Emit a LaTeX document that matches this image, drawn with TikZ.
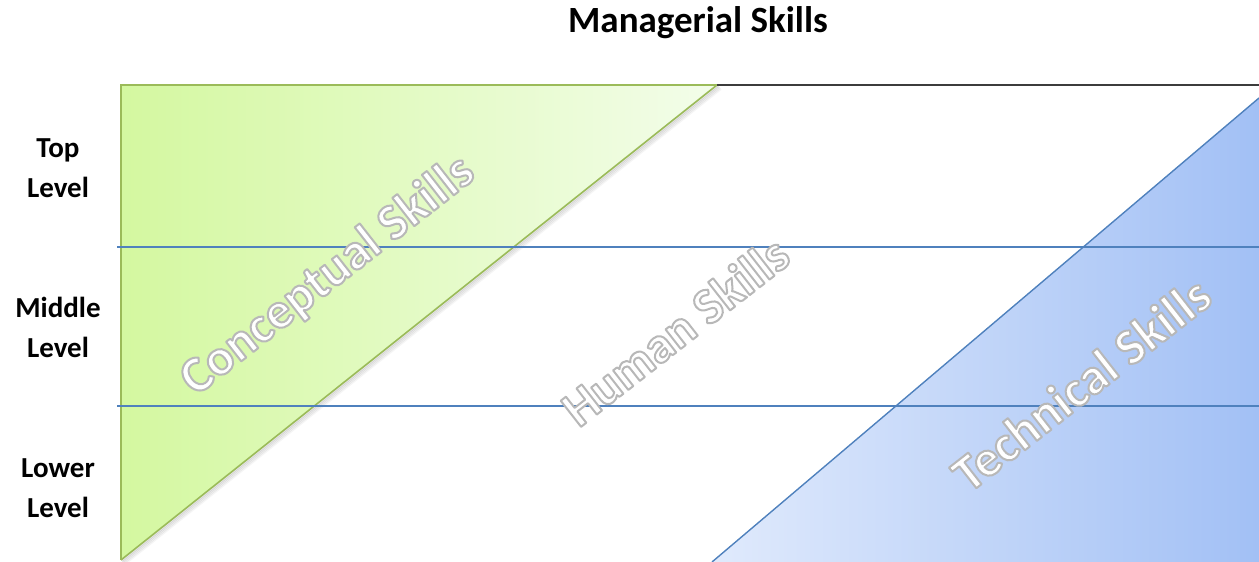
\documentclass[tikz,border=0pt]{standalone}
\usepackage{fontspec}
\setmainfont{Carlito}
\usetikzlibrary{calc}
\definecolor{greenL}{RGB}{212,248,160}
\definecolor{greenR}{RGB}{243,253,234}
\definecolor{greenEdge}{RGB}{155,187,89}
\definecolor{blueL}{RGB}{224,234,252}
\definecolor{blueR}{RGB}{162,192,245}
\definecolor{blueEdge}{RGB}{79,129,189}
\definecolor{topEdge}{RGB}{60,60,60}
\newcommand\glowtext[1]{%
  \color{white}\special{pdf:literal direct 2 Tr 2.0 w 1 j 0.72 G}#1\special{pdf:literal direct 0 Tr}}
\tikzset{
  level/.style={font=\bfseries\fontsize{29}{40}\selectfont, align=center, inner sep=0pt, text=black},
  skill/.style={font=\bfseries\fontsize{51}{60}\selectfont, inner sep=0pt, rotate=38},
  gridline/.style={draw=blueEdge, line width=1.3pt},
}
\begin{document}
\begin{tikzpicture}[x=1pt,y=1pt]
\useasboundingbox (0,0) rectangle (1259,562);
% green triangle shadow
\coordinate (gA) at (121,477);
\coordinate (gB) at (717,477);
\coordinate (gC) at (121,2);
\foreach \s/\o in {1/0.10,2/0.08,3/0.06,4/0.04}{
  \draw[black, opacity=\o, line width=2pt] ($(gB)+(\s,-\s)$) -- ($(gC)+(\s,-\s)$);
}
\fill[left color=greenL, right color=greenR] (gA) -- (gB) -- (gC) -- cycle;
\draw[greenEdge, line width=1.6pt, line join=miter] (gC) -- (gA) -- (gB) -- (gC);
% blue triangle
\coordinate (bA) at (712,0);
\coordinate (bB) at (1259,464);
\coordinate (bC) at (1259,0);
\fill[left color=blueL, right color=blueR] (bA) -- (bB) -- (bC) -- cycle;
\draw[blueEdge, line width=1.4pt] (bA) -- (bB);
% top line
\coordinate (tR) at (1259,477);
\draw[topEdge, line width=1.8pt] (gB) -- (tR);
% level lines
\coordinate (l1a) at (117,315);
\coordinate (l1b) at (1259,315);
\coordinate (l2a) at (117,156);
\coordinate (l2b) at (1259,156);
\draw[gridline] (l1a) -- (l1b);
\draw[gridline] (l2a) -- (l2b);
% title
\node[font=\bfseries\fontsize{37}{44}\selectfont, anchor=base, inner sep=0pt] (title) at (698,529) {Managerial Skills};
% level labels
\node[level] (lvtop) at (58,394) {Top\\Level};
\node[level] (lvmid) at (58,235) {Middle\\Level};
\node[level] (lvlow) at (58,74) {Lower\\Level};
% skill labels
\node[skill] (concept) at (328,286) {\glowtext{Conceptual Skills}};
\node[skill] (human) at (675,231) {\glowtext{Human Skills}};
\node[skill] (tech) at (1081,178) {\glowtext{Technical Skills}};
\end{tikzpicture}
\end{document}
